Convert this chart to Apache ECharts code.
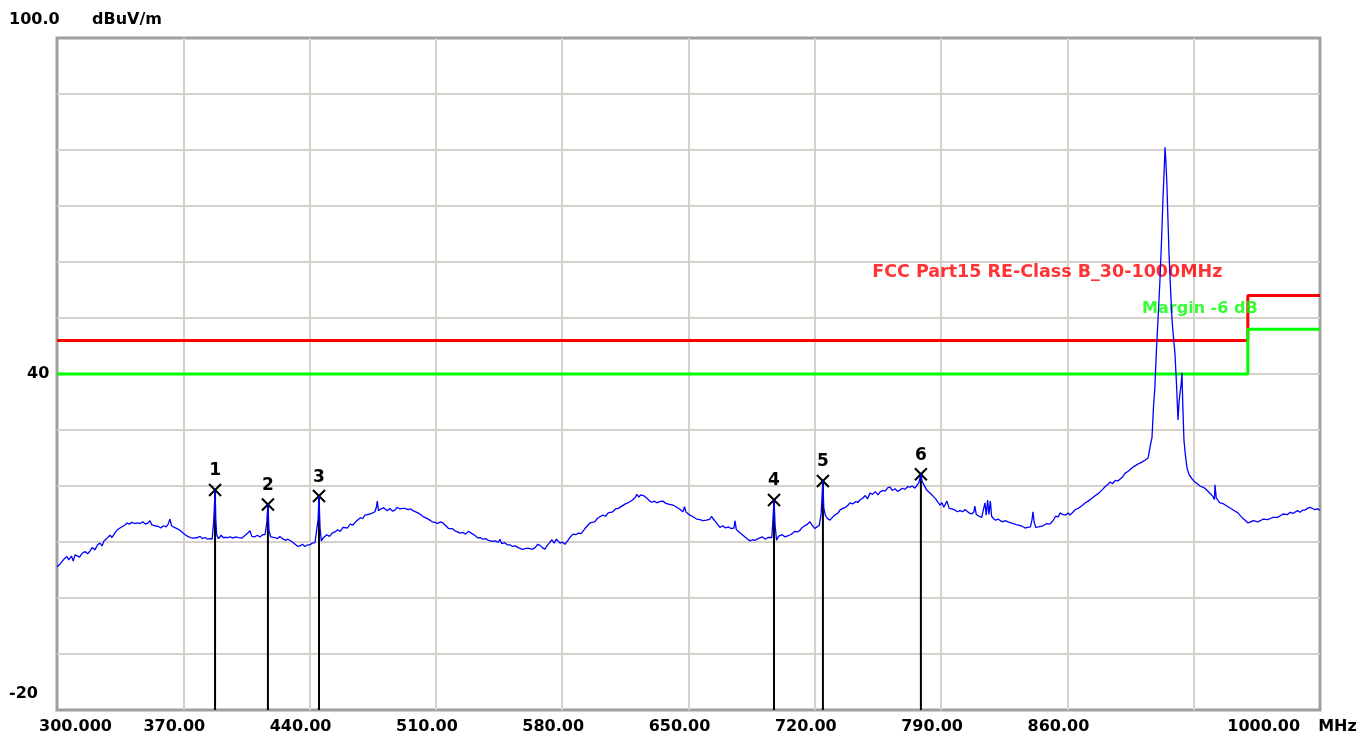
<!DOCTYPE html>
<html>
<head>
<meta charset="utf-8">
<script src="https://cdn.jsdelivr.net/npm/echarts@6/dist/echarts.min.js"></script>
<style>
html,body{margin:0;padding:0;background:#fff;}
#chart{width:1364px;height:740px;}
</style>
</head>
<body>
<div id="chart"></div>
<script>
// ---- axis settings ----
const xMin = 300, xMax = 1000, xStep = 70;
const yMin = -20, yMax = 100, yStep = 10;
const yLabelValues = [100, 40, -20];
const hiddenXLabels = [930];
const yUnit = 'dBuV/m';
const xUnit = 'MHz';

// ---- limit lines ----
const limitName = 'FCC Part15 RE-Class B_30-1000MHz';
const marginName = 'Margin -6 dB';
const limitLine = [[300, 46], [960, 46], [960, 54], [1000, 54]];
const marginLine = [[300, 40], [960, 40], [960, 48], [1000, 48]];
const limitLabelAt = [751.8, 58.2];
const marginLabelAt = [901.4, 51.6];

// ---- markers ----
const markerIds = [1, 2, 3, 4, 5, 6];
const markerFreq = [387.6, 416.9, 445.2, 697.4, 724.5, 778.8];
const markerLevel = [19.3, 16.7, 18.2, 17.5, 20.9, 22.1];

// ---- measured trace [MHz, dBuV/m] ----
const trace = [
[300,5.6],[301.5,6.0],[302.5,5.8],[304,7.0],[305.5,7.4],[306.5,6.8],[308,7.5],[309,6.6],[310,7.7],[311,7.9],
[312.5,7.3],[314,8.0],[315.5,8.3],[317,7.9],[318.3,8.4],[319.5,9.0],[321,8.6],[322.5,9.5],[323.8,9.8],[325,9.3],
[326,10.2],[327.5,10.6],[329.4,11.2],[330.5,10.8],[332,11.6],[333.5,12.2],[334.9,12.5],[336,12.2],[337.5,13.0],[338.8,13.4],
[340,13.2],[341.5,13.5],[343,13.3],[344.5,13.4],[346,13.3],[347.5,13.6],[349,13.2],[350.5,13.4],[351.5,13.8],[352.5,13.1],
[354,12.9],[355,12.6],[356,12.8],[357.5,12.5],[359,12.9],[360.5,12.7],[361.5,13.1],[362.6,14.1],[363.5,12.9],[365,12.6],
[366.5,12.4],[368.2,12.1],[369.5,11.7],[371,11.3],[372.5,11.0],[374,10.8],[375.4,10.7],[376.5,11.0],[378,10.8],[379.3,11.0],
[380.5,10.6],[382,10.8],[383.5,10.5],[384.8,10.6],[386,10.5],[386.8,13.5],[387.2,16.0],[387.6,19.3],[388.0,14.0],[388.5,11.3],
[389.5,10.6],[391,11.2],[392,10.8],[393.1,10.9],[394.5,10.8],[396,10.9],[397.5,10.7],[399,10.9],[400.5,10.8],[401.4,11.0],
[402.5,10.7],[404,11.1],[405.5,11.5],[406.9,12.0],[408,11.0],[409.5,10.9],[411,11.2],[412.5,10.9],[414,11.3],[415.3,11.3],
[416.3,13.5],[416.9,16.7],[417.5,12.0],[418.5,10.9],[419.5,11.1],[420.8,10.8],[422,10.6],[423.5,11.0],[425,10.6],[426.5,10.3],
[428,10.5],[429.1,10.4],[430.5,10.0],[432,9.6],[433.5,9.2],[434.7,9.3],[436,9.6],[437.5,9.2],[439,9.5],[440.2,9.5],
[441.5,9.8],[443,9.9],[444.1,10.0],[444.7,14.0],[445.2,18.2],[445.8,12.5],[446.5,10.2],[447.5,10.7],[448.5,10.9],[449.5,11.3],
[451,11.0],[452.5,11.6],[454.1,11.8],[455.5,12.2],[457,11.9],[458.5,12.6],[459.6,12.7],[461,12.5],[462.5,13.2],[464,13.0],
[465.2,13.5],[466.5,13.9],[468,14.3],[469.5,14.2],[470.7,14.8],[472,14.9],[473.5,15.0],[475,15.2],[476.2,15.4],[477,16.2],
[477.5,17.3],[478.2,15.6],[479.5,15.9],[481,16.1],[481.8,16.0],[483,15.6],[484.5,16.0],[486,15.5],[487.3,15.7],[488.5,16.2],
[490,15.9],[491.5,16.0],[492.9,16.0],[494.5,15.8],[496,15.9],[497.3,15.6],[498.4,15.6],[500,15.2],[501.5,14.9],[503,14.5],
[504.5,14.3],[506.7,13.9],[508,13.6],[509.5,13.5],[511,13.3],[512.5,13.6],[513.9,13.4],[515.5,12.9],[517,12.4],[517.8,12.3],
[519,12.4],[520.5,12.0],[522,11.8],[523.4,11.6],[525,11.7],[526.5,11.4],[528,11.9],[528.9,12.1],[530,11.5],[531.5,11.2],
[533.3,10.7],[534.5,10.8],[536,10.5],[537.5,10.6],[539,10.3],[540,10.4],[541.5,10.1],[543,10.2],[544.5,9.9],[545.5,10.5],
[546.5,9.7],[548,9.9],[549.5,9.5],[551,9.5],[552.5,9.2],[554,9.3],[555.5,9.0],[556.6,8.8],[558,8.7],[559.5,8.8],
[561,8.9],[562.1,9.1],[563.5,8.7],[565,9.0],[566.5,9.6],[567.7,9.4],[569,9.0],[570.4,8.7],[571.5,9.3],[572.8,9.8],
[574.3,10.4],[575.5,9.8],[576.8,10.5],[578.8,9.8],[580,10.0],[581.5,9.6],[583,10.2],[584.5,10.9],[586,11.4],[587.5,11.3],
[589,11.6],[590.5,11.5],[592.6,12.4],[594,12.9],[595.4,13.4],[596.5,13.1],[598,13.6],[599.5,14.2],[600.9,14.5],[602.5,14.8],
[604,14.6],[605.5,15.2],[606.5,15.0],[608,15.4],[609.5,15.9],[611,16.0],[612,16.2],[613.5,16.5],[615,16.8],[616.5,17.0],
[617.5,17.1],[619,17.5],[620.5,18.0],[621.4,18.5],[622.5,18.0],[623.5,18.4],[625,18.3],[625.8,18.2],[627,17.8],[628.5,17.3],
[629.7,17.1],[631,17.3],[632.5,17.0],[634,17.2],[635.8,17.3],[637.5,16.9],[639.5,16.7],[641.4,16.6],[643,16.3],[645,15.9],
[646.9,15.4],[647.8,16.3],[648.7,15.3],[650.8,14.8],[652.5,14.5],[654.5,14.1],[656.3,14.0],[658,13.8],[660,13.9],[661.9,14.1],
[662.8,14.6],[663.5,14.2],[665.5,13.4],[667.4,12.6],[669,12.9],[670.5,12.5],[672,12.7],[673.5,12.4],[675.2,12.5],[675.8,13.8],
[676.5,12.2],[678,11.8],[679.5,11.4],[681.3,10.9],[682.5,10.6],[684.1,10.2],[685.5,10.4],[687,10.3],[688.5,10.6],[689.6,10.7],
[691,10.9],[692.5,10.5],[694,10.8],[695.1,10.9],[696.2,10.8],[696.8,14.0],[697.4,17.5],[698,13.0],[698.8,10.3],[699.8,11.0],
[700.7,10.7],[702,11.3],[703.5,10.9],[705,11.1],[706.2,11.25],[707.5,11.5],[709,11.9],[710.5,11.8],[711.8,12.1],[713,12.6],
[714.5,12.9],[716,13.2],[717.3,13.6],[718.5,13.0],[720,12.4],[721.2,12.7],[722.5,13.0],[723.5,15.0],[724.5,20.9],[725,16.0],
[725.8,14.8],[727,14.2],[728.4,13.9],[730,14.5],[731.5,14.9],[733,15.2],[733.9,15.7],[735.5,16.0],[737,16.2],[738.5,16.6],
[739.5,17.0],[741,16.8],[742.5,17.2],[744,17.1],[745,17.5],[746.5,17.8],[748,18.3],[749.2,17.7],[750.6,18.75],[752,18.5],
[753.5,19.0],[755,18.4],[756.1,18.9],[757.5,19.2],[759,19.1],[760.5,19.7],[761.7,19.8],[763,19.2],[764.5,19.5],[766,19.0],
[767.2,19.3],[768.5,19.6],[770,19.4],[771.5,19.9],[772.7,19.8],[774,20.0],[775.5,19.6],[776.6,20.1],[777.7,20.6],[778.8,22.1],
[779.5,20.8],[780.5,20.2],[782,19.3],[783.8,18.75],[785.5,18.2],[787,17.7],[788.5,17.0],[789.4,16.6],[790.5,17.0],[791.5,16.2],
[793.2,17.3],[794.5,16.0],[796,15.9],[797.7,15.7],[799,15.4],[800.5,15.6],[802,15.4],[803.3,15.8],[804.3,15.7],[805.5,15.2],
[807,15.0],[808.2,15.4],[808.7,16.4],[809.5,14.9],[811,14.6],[812.5,14.4],[813.6,14.5],[814.3,17.0],[815,14.8],[815.8,17.5],
[816.5,14.9],[817.3,17.3],[818,14.6],[819,14.2],[820.2,13.9],[821.5,14.1],[822.6,13.9],[824,13.6],[825.5,13.8],[827,13.6],
[828.1,13.4],[830,13.3],[831.5,13.1],[833,13.0],[835,12.8],[836.5,12.5],[838,12.6],[839.5,12.7],[840.4,14.0],[840.9,15.4],
[841.6,13.5],[842.5,12.6],[844,12.7],[844.8,12.5],[846.5,12.9],[848.5,13.3],[850.3,13.2],[852,13.8],[853.5,14.6],[855,14.5],
[855.9,15.2],[857.5,14.9],[859,14.8],[860.5,15.2],[861.4,14.8],[863,15.3],[864.5,15.8],[866,16.0],[867,16.25],[868.5,16.6],
[870,17.0],[871.5,17.3],[872.5,17.5],[874,17.9],[875.5,18.3],[877,18.6],[878.1,18.9],[879.5,19.4],[881,19.9],[882.5,20.3],
[883.6,20.7],[885,20.4],[886.5,21.0],[888,20.9],[889.1,21.1],[890.5,21.6],[892,22.3],[893.5,22.6],[894.7,22.9],[896,23.3],
[897.5,23.6],[899,23.9],[900.2,24.1],[901.5,24.3],[903,24.6],[904.7,25.0],[905.3,26.0],[905.8,27.0],[906.9,28.7],[907.7,34.0],
[908.5,37.7],[909.3,44.0],[910.2,49.6],[911.3,56.8],[912.2,64.0],[913.0,71.6],[913.6,76.0],[914.1,80.5],[914.6,78.0],[915.2,73.4],
[915.7,68.0],[916.3,61.6],[917.2,55.0],[918.0,49.6],[918.8,46.5],[919.6,43.75],[920.5,38.0],[921.3,31.8],[921.9,35.0],[922.4,36.6],
[923.0,38.0],[923.5,40.2],[924.0,34.0],[924.6,28.2],[925.4,25.5],[926.3,23.2],[927.5,22.0],[929,21.3],[930.7,20.7],[932,20.4],
[933.5,20.0],[935,19.8],[936.2,19.6],[937.5,19.2],[939,18.7],[940.5,18.2],[941.5,17.6],[941.8,20.2],[942.5,17.9],[943.5,18.2],
[944.5,17.0],[946,16.9],[947.5,16.6],[949,16.3],[950.1,16.0],[951.5,15.8],[953,15.5],[954.5,15.2],[955.6,14.8],[957,14.3],
[958.5,13.9],[960.1,13.4],[961.5,13.6],[963,13.8],[964,13.9],[965.5,13.6],[967,13.8],[968.5,14.1],[969.5,14.3],[971,14.0],
[972.5,14.2],[974,14.4],[975.1,14.5],[976.5,14.4],[978,14.7],[979.5,15.0],[980.6,15.2],[982,14.9],[983.5,15.3],[985,15.1],
[986.1,15.4],[987.5,15.6],[989,15.3],[990.5,15.7],[991.7,15.7],[993,16.0],[994.5,16.2],[995.5,16.25],[997,15.8],[998.5,15.9],
[1000,15.7]
];

// ---- build chart (x axis runs as offset from xMin so that ticks fall on 300, 370, ...) ----
const FONT = 'DejaVu Sans';
const shift = p => [p[0] - xMin, p[1]];

function xLabel(v) {
  const f = v + xMin;
  if (hiddenXLabels.indexOf(f) >= 0) return '';
  if (f === xMin) return '{first|' + f.toFixed(3) + '}';
  if (f === xMax) return '{last|' + f.toFixed(2) + '}{unit|' + xUnit + '}';
  return '{mid|' + f.toFixed(2) + '}';
}
function yLabel(v) {
  if (yLabelValues.indexOf(v) < 0) return '';
  if (v === yMax) return '{top|' + v.toFixed(1) + '}';
  if (v === yMin) return '{low|' + v + '}';
  return '{mid|' + v + '}';
}

function renderMarker(params, api) {
  const p = api.coord([api.value(0), api.value(1)]);
  const b = api.coord([api.value(0), yMin]);
  const s = 6;
  return {
    type: 'group',
    children: [
      { type: 'line', shape: { x1: p[0], y1: p[1], x2: b[0], y2: b[1] }, style: { stroke: '#000', lineWidth: 2 } },
      { type: 'line', shape: { x1: p[0] - s, y1: p[1] - s, x2: p[0] + s, y2: p[1] + s }, style: { stroke: '#000', lineWidth: 2 } },
      { type: 'line', shape: { x1: p[0] - s, y1: p[1] + s, x2: p[0] + s, y2: p[1] - s }, style: { stroke: '#000', lineWidth: 2 } },
      { type: 'text', x: p[0], y: p[1] - 19, style: { text: String(api.value(2)), fill: '#000', font: 'bold 17px "' + FONT + '"', align: 'center', verticalAlign: 'middle' } }
    ]
  };
}

const chart = echarts.init(document.getElementById('chart'), null, { renderer: 'canvas' });
chart.setOption({
  animation: false,
  backgroundColor: '#fff',
  textStyle: { fontFamily: FONT },
  grid: { left: 57, right: 44, top: 38, bottom: 30, show: true, borderColor: '#a0a0a0', borderWidth: 3, backgroundColor: '#fff' },
  xAxis: {
    type: 'value', min: 0, max: xMax - xMin, interval: xStep,
    axisLine: { show: false }, axisTick: { show: false },
    splitLine: { show: true, showMinLine: false, showMaxLine: false, lineStyle: { color: '#d6d2cb', width: 2 } },
    axisLabel: {
      margin: 9, formatter: xLabel, color: '#000', fontWeight: 'bold', fontSize: 16,
      rich: {
        first: { fontWeight: 'bold', fontSize: 16, color: '#000', padding: [0, 0, 0, 37] },
        mid: { fontWeight: 'bold', fontSize: 16, color: '#000', padding: [0, 18, 0, 0] },
        last: { fontWeight: 'bold', fontSize: 16, color: '#000' },
        unit: { fontWeight: 'bold', fontSize: 16, color: '#000', padding: [0, 56, 0, 18] }
      }
    }
  },
  yAxis: {
    type: 'value', min: yMin, max: yMax, interval: yStep,
    name: yUnit, nameLocation: 'end', nameGap: 18,
    nameTextStyle: { align: 'left', verticalAlign: 'middle', fontWeight: 'bold', fontSize: 16, color: '#000', padding: [0, 0, 0, 35] },
    axisLine: { show: false }, axisTick: { show: false },
    splitLine: { show: true, showMinLine: false, showMaxLine: false, lineStyle: { color: '#d6d2cb', width: 2 } },
    axisLabel: {
      margin: 48, align: 'left', formatter: yLabel, color: '#000', fontWeight: 'bold', fontSize: 16,
      rich: {
        top: { fontWeight: 'bold', fontSize: 16, color: '#000', padding: [0, 0, 36, 0] },
        mid: { fontWeight: 'bold', fontSize: 16, color: '#000', padding: [0, 0, 0, 18] },
        low: { fontWeight: 'bold', fontSize: 16, color: '#000', padding: [0, 0, 32, 0] }
      }
    }
  },
  series: [
    {
      type: 'custom', name: 'markers', renderItem: renderMarker, z: 2, clip: false,
      data: markerFreq.map((f, i) => [f - xMin, markerLevel[i], markerIds[i]])
    },
    {
      type: 'line', name: limitName, data: limitLine.map(shift), showSymbol: false, z: 3,
      lineStyle: { color: '#ff0000', width: 3 }
    },
    {
      type: 'line', name: marginName, data: marginLine.map(shift), showSymbol: false, z: 3,
      lineStyle: { color: '#00ff00', width: 3 }
    },
    {
      type: 'scatter', name: 'labels', symbolSize: 0, z: 4, silent: true,
      label: { show: true, position: 'right', distance: 0, fontWeight: 'bold', fontSize: 16 },
      data: [
        { value: shift(limitLabelAt), label: { formatter: limitName, color: '#ff0000', fontSize: 17.5 } },
        { value: shift(marginLabelAt), label: { formatter: marginName, color: '#00ff00' } }
      ]
    },
    {
      type: 'line', name: 'trace', data: trace.map(shift), showSymbol: false, z: 5,
      lineStyle: { color: '#0000ff', width: 1.3 }
    }
  ]
});
</script>
</body>
</html>
